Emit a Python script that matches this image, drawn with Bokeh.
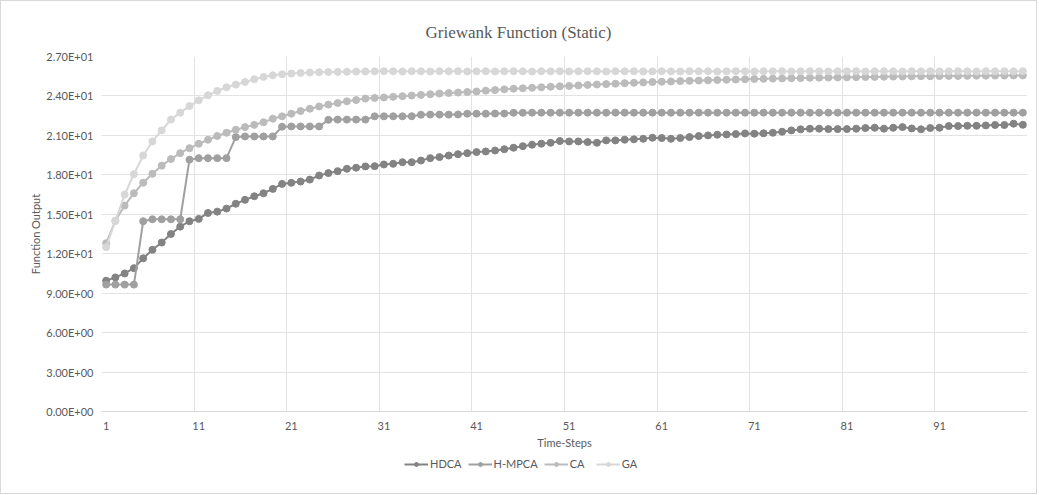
from bokeh.plotting import figure
from bokeh.models import FixedTicker, Legend, LegendItem, Range1d
from bokeh.layouts import column
from bokeh.embed import file_html
from bokeh.resources import INLINE

steps = list(range(1, 101))

hdca = [9.95, 10.2, 10.5, 10.9, 11.65, 12.3, 12.85, 13.5, 14.06, 14.47,
        14.65, 15.1, 15.2, 15.43, 15.8, 16.1, 16.37, 16.6, 16.93, 17.31,
        17.39, 17.49, 17.64, 17.95, 18.13, 18.28, 18.46, 18.54, 18.64, 18.66,
        18.79, 18.84, 18.96, 18.96, 19.09, 19.27, 19.35, 19.47, 19.57, 19.65,
        19.73, 19.78, 19.85, 19.95, 20.06, 20.18, 20.29, 20.37, 20.44, 20.57,
        20.54, 20.54, 20.49, 20.44, 20.62, 20.62, 20.67, 20.70, 20.74, 20.82,
        20.80, 20.74, 20.80, 20.87, 20.95, 21.00, 21.05, 21.07, 21.10, 21.15,
        21.13, 21.16, 21.20, 21.28, 21.38, 21.46, 21.51, 21.51, 21.48, 21.48,
        21.48, 21.51, 21.56, 21.58, 21.51, 21.58, 21.63, 21.53, 21.46, 21.56,
        21.58, 21.71, 21.71, 21.73, 21.73, 21.76, 21.79, 21.79, 21.89, 21.81]

hmpca = [9.65, 9.65, 9.65, 9.65, 14.47, 14.62, 14.62, 14.62, 14.62, 19.15,
         19.27, 19.27, 19.27, 19.27, 20.87, 20.92, 20.92, 20.92, 20.92, 21.66,
         21.68, 21.68, 21.68, 21.68, 22.18, 22.2, 22.2, 22.2, 22.2, 22.45,
         22.45, 22.45, 22.45, 22.46, 22.57, 22.58, 22.58, 22.58, 22.59, 22.65,
         22.65, 22.65, 22.66, 22.66, 22.72, 22.72, 22.73, 22.73, 22.73, 22.73,
         22.73, 22.73, 22.73, 22.73, 22.73, 22.73, 22.73, 22.73, 22.73, 22.73,
         22.73, 22.73, 22.73, 22.73, 22.73, 22.73, 22.73, 22.73, 22.73, 22.73,
         22.73, 22.73, 22.73, 22.73, 22.73, 22.73, 22.73, 22.73, 22.73, 22.73,
         22.73, 22.73, 22.73, 22.73, 22.73, 22.73, 22.73, 22.73, 22.73, 22.73,
         22.73, 22.73, 22.73, 22.73, 22.73, 22.73, 22.73, 22.73, 22.73, 22.73]

ca = [12.8, 14.5, 15.66, 16.6, 17.4, 18.08, 18.7, 19.2, 19.65, 20.03,
      20.36, 20.67, 20.95, 21.2, 21.43, 21.63, 21.8, 22.0, 22.27, 22.45,
      22.65, 22.85, 23.03, 23.2, 23.34, 23.46, 23.59, 23.69, 23.8, 23.85,
      23.88, 23.93, 23.98, 24.03, 24.08, 24.13, 24.18, 24.22, 24.26, 24.3,
      24.34, 24.4, 24.45, 24.5, 24.55, 24.58, 24.62, 24.66, 24.7, 24.73,
      24.76, 24.8, 24.84, 24.87, 24.9, 24.93, 24.97, 25.0, 25.03, 25.06,
      25.08, 25.1, 25.13, 25.15, 25.17, 25.19, 25.21, 25.23, 25.25, 25.27,
      25.29, 25.3, 25.32, 25.33, 25.35, 25.36, 25.38, 25.39, 25.4, 25.41,
      25.42, 25.43, 25.44, 25.45, 25.46, 25.47, 25.48, 25.49, 25.5, 25.5,
      25.51, 25.52, 25.52, 25.53, 25.54, 25.54, 25.55, 25.55, 25.56, 25.56]

ga = [12.5, 14.5, 16.5, 18.05, 19.47, 20.54, 21.38, 22.2, 22.73, 23.23,
      23.67, 24.05, 24.38, 24.66, 24.86, 25.06, 25.27, 25.45, 25.57, 25.65,
      25.7, 25.75, 25.78, 25.8, 25.82, 25.83, 25.84, 25.85, 25.86, 25.87,
      25.88, 25.87, 25.86, 25.88, 25.87, 25.86, 25.88, 25.87, 25.88, 25.86,
      25.87, 25.88, 25.86, 25.87, 25.88, 25.87, 25.86, 25.88, 25.87, 25.88,
      25.86, 25.87, 25.88, 25.87, 25.86, 25.88, 25.87, 25.88, 25.86, 25.87,
      25.88, 25.87, 25.86, 25.88, 25.87, 25.88, 25.86, 25.87, 25.88, 25.87,
      25.86, 25.88, 25.87, 25.88, 25.86, 25.87, 25.88, 25.87, 25.86, 25.88,
      25.87, 25.88, 25.86, 25.87, 25.88, 25.87, 25.86, 25.88, 25.87, 25.88,
      25.86, 25.87, 25.88, 25.87, 25.86, 25.88, 25.87, 25.88, 25.87, 25.88]

series_names = ["HDCA", "H-MPCA", "CA", "GA"]
series_values = [hdca, hmpca, ca, ga]
series_colors = ["#838383", "#a0a0a0", "#bbbbbb", "#d7d7d7"]

y_ticks = [0, 3, 6, 9, 12, 15, 18, 21, 24, 27]
y_tick_labels = ["0.00E+00", "3.00E+00", "6.00E+00", "9.00E+00", "1.20E+01",
                 "1.50E+01", "1.80E+01", "2.10E+01", "2.40E+01", "2.70E+01"]
x_ticks = [1, 11, 21, 31, 41, 51, 61, 71, 81, 91]
x_grid = [0.5, 10.5, 20.5, 30.5, 40.5, 50.5, 60.5, 70.5, 80.5, 90.5, 100.5]

TXT = "#595959"
FONT = "Lato"
W = 1035

p = figure(width=W, height=450, output_backend="svg", toolbar_location=None,
           x_range=Range1d(0.5, 100.5), y_range=Range1d(0, 27),
           min_border_left=100, min_border_right=9, min_border_top=55, min_border_bottom=40,
           title="Griewank Function (Static)")

p.title.align = "left"
p.title.offset = 324
p.title.text_font = "Liberation Serif"
p.title.text_font_size = "17px"
p.title.text_font_style = "normal"
p.title.text_color = TXT
p.title.standoff = 30

p.outline_line_color = None
p.background_fill_color = "white"
p.border_fill_color = "white"

# y axis
p.yaxis.ticker = FixedTicker(ticks=y_ticks)
p.yaxis.major_label_overrides = {t: s for t, s in zip(y_ticks, y_tick_labels)}
p.yaxis.axis_line_color = None
p.yaxis.major_tick_line_color = None
p.yaxis.minor_tick_line_color = None
p.yaxis.major_tick_out = 0
p.yaxis.major_tick_in = 0
p.yaxis.minor_tick_out = 0
p.yaxis.major_label_standoff = 8
p.yaxis.major_label_text_font = FONT
p.yaxis.major_label_text_font_size = "11px"
p.yaxis.major_label_text_color = TXT
p.yaxis.axis_label = "Function Output"
p.yaxis.axis_label_text_font = FONT
p.yaxis.axis_label_text_font_size = "11px"
p.yaxis.axis_label_text_font_style = "normal"
p.yaxis.axis_label_text_color = TXT
p.yaxis.axis_label_standoff = 1
p.ygrid.ticker = FixedTicker(ticks=y_ticks)
p.ygrid.grid_line_color = "#e3e3e3"

# x axis
p.xaxis.ticker = FixedTicker(ticks=x_ticks)
p.xaxis.axis_line_color = "#d9d9d9"
p.xaxis.major_tick_line_color = None
p.xaxis.minor_tick_line_color = None
p.xaxis.major_tick_out = 0
p.xaxis.major_tick_in = 0
p.xaxis.minor_tick_out = 0
p.xaxis.major_label_standoff = 10
p.xaxis.major_label_text_font = FONT
p.xaxis.major_label_text_font_size = "11px"
p.xaxis.major_label_text_color = TXT
p.xaxis.axis_label = "Time-Steps"
p.xaxis.axis_label_text_font = FONT
p.xaxis.axis_label_text_font_size = "11px"
p.xaxis.axis_label_text_font_style = "normal"
p.xaxis.axis_label_text_color = TXT
p.xaxis.axis_label_standoff = 3
p.xgrid.ticker = FixedTicker(ticks=x_grid)
p.xgrid.grid_line_color = "#e3e3e3"

for name, vals, col in zip(series_names, series_values, series_colors):
    p.line(steps, vals, line_color=col, line_width=2)
    p.scatter(steps, vals, marker="circle", size=7, fill_color=col, line_color=col)

# legend strip below the chart
lg = figure(width=W, height=42, output_backend="svg", toolbar_location=None,
            x_range=Range1d(0, 1), y_range=Range1d(0, 1), min_border=0)
lg.axis.visible = False
lg.grid.visible = False
lg.outline_line_color = None
lg.border_fill_color = "white"
items = []
for name, col in zip(series_names, series_colors):
    ln = lg.line([-5, -4], [-5, -4], line_color=col, line_width=2)
    sc = lg.scatter([-5], [-5], marker="circle", size=7, fill_color=col, line_color=col)
    items.append(LegendItem(label=name, renderers=[ln, sc]))
legend = Legend(items=items, orientation="horizontal", location=(303, 23),
                border_line_color=None, background_fill_alpha=0,
                label_text_font=FONT, label_text_font_size="11px", label_text_color=TXT,
                glyph_width=24, glyph_height=10, label_standoff=2, spacing=6,
                padding=4, margin=0)
lg.add_layout(legend)

layout = column(p, lg, spacing=0, styles={"border": "1px solid #d9d9d9"})

open("out.html", "w").write(file_html(layout, INLINE))
